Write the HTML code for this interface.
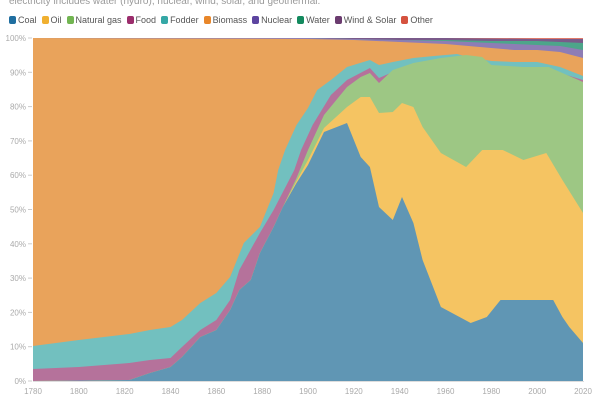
<!DOCTYPE html>
<html><head><meta charset="utf-8"><style>
body{margin:0;width:600px;height:400px;background:#fff;font-family:"Liberation Sans",sans-serif;overflow:hidden;position:relative}
.sub{position:absolute;left:9px;top:-4px;font-size:10px;color:#9a9a9a}
.leg{position:absolute;left:9px;top:15px;font-size:9px;color:#555;display:flex;gap:5px}
.leg span{display:flex;align-items:center}
.leg i{display:inline-block;width:7px;height:8px;border-radius:2px;margin-right:2px}
</style></head><body>
<div class="sub">electricity includes water (hydro), nuclear, wind, solar, and geothermal.</div>
<div class="leg">
<span><i style="background:#1f6ea0"></i>Coal</span><span><i style="background:#f0b030"></i>Oil</span><span><i style="background:#72b552"></i>Natural gas</span><span><i style="background:#9b2d6c"></i>Food</span><span><i style="background:#35a8a6"></i>Fodder</span><span><i style="background:#e8862a"></i>Biomass</span><span><i style="background:#5d45a0"></i>Nuclear</span><span><i style="background:#138a5e"></i>Water</span><span><i style="background:#6b3b6f"></i>Wind &amp; Solar</span><span><i style="background:#d5523f"></i>Other</span>
</div>
<svg id="s" width="600" height="400" style="position:absolute;left:0;top:0"></svg>
<script>
const X=y=>33+(y-1780)*550/240;
const L=[
["#e07a6b",[[1780,38],[2020,38]]],
["#7a5a8a",[[1780,38],[1960,38],[2000,39],[2020,39]]],
["#4da58a",[[1780,38],[1900,38],[1920,39],[1940,40],[1960,40],[1980,41],[2000,41],[2020,43]]],
["#8e7db5",[[1780,38],[1900,38],[1920,39],[1940,40],[1960,41],[1970,42],[1980,43],[1990,44],[2000,45],[2010,46],[2020,50]]],
["#e9a35b",[[1780,38],[1900,39],[1920,40],[1940,42],[1960,44],[1970,46],[1980,48],[1990,50],[2000,50],[2010,52],[2020,58]]],
["#72c0bf",[[1780,346],[1800,340],[1822,334],[1831,330],[1840,327],[1845,320],[1853,303],[1860,293],[1866,277],[1872,243],[1879,227],[1885,193],[1887,170],[1890,150],[1895,125],[1900,108],[1904,90],[1910,80],[1917,67],[1927,60],[1931,65],[1937,62],[1946,58],[1955,56],[1960,55],[1965,54],[1970,57],[1980,61],[1990,62],[2000,62],[2010,67],[2020,76]]],
["#b5729b",[[1780,369],[1800,367],[1822,363],[1831,360],[1840,358],[1845,347],[1853,330],[1860,320],[1866,300],[1870,270],[1879,233],[1885,210],[1894,170],[1897,150],[1902,125],[1910,95],[1917,80],[1927,68],[1931,78],[1937,72],[1946,66],[1958,60],[1965,59],[1970,62],[1980,69],[1990,70],[2000,70],[2010,73],[2020,80]]],
["#9dc784",[[1780,381],[1822,380],[1831,373],[1840,367],[1845,357],[1853,337],[1860,330],[1866,310],[1870,290],[1875,280],[1879,253],[1885,227],[1889,207],[1895,178],[1900,150],[1907,115],[1917,87],[1923,77],[1927,73],[1931,83],[1937,70],[1946,63],[1958,58],[1969,55],[1976,57],[1980,65],[1994,67],[2005,67],[2011,73],[2020,82]]],
["#f5c462",[[1780,381],[1822,380],[1831,373],[1840,367],[1845,357],[1853,337],[1860,330],[1866,310],[1870,290],[1875,280],[1879,253],[1885,227],[1889,207],[1895,181],[1900,160],[1907,128],[1917,107],[1923,97],[1927,97],[1931,113],[1937,112],[1941,103],[1946,107],[1950,127],[1958,153],[1969,167],[1976,150],[1985,150],[1994,160],[2004,153],[2011,180],[2020,213]]],
["#6096b4",[[1780,381],[1822,380],[1831,373],[1840,367],[1845,357],[1853,337],[1860,330],[1866,310],[1870,290],[1875,280],[1879,253],[1885,227],[1889,207],[1895,183],[1900,165],[1907,132],[1917,123],[1923,157],[1927,167],[1931,207],[1937,220],[1941,197],[1946,223],[1950,260],[1958,307],[1971,323],[1978,317],[1984,300],[2007,300],[2011,317],[2014,327],[2020,343]]]
];
let h='';
for(const [c,p] of L){let d='M'+X(1780)+',381 ';for(const [yr,y] of p)d+='L'+X(yr).toFixed(1)+','+y+' ';d+='L'+X(2020)+',381Z';h+=`<path d="${d}" fill="${c}"/>`;}
for(let i=0;i<=10;i++){const y=381-i*34.3;h+=`<text x="26" y="${y+3}" font-size="8" fill="#aaa" text-anchor="end">${i*10}%</text><line x1="28" x2="32" y1="${y}" y2="${y}" stroke="#ccc"/>`;}
for(let yr=1780;yr<=2020;yr+=20){h+=`<text x="${X(yr)}" y="394" font-size="8" fill="#aaa" text-anchor="middle">${yr}</text>`;}
h+=`<line x1="33" x2="584" y1="381.5" y2="381.5" stroke="#ddd"/>`;
document.getElementById('s').innerHTML=h;
</script>
</body></html>
